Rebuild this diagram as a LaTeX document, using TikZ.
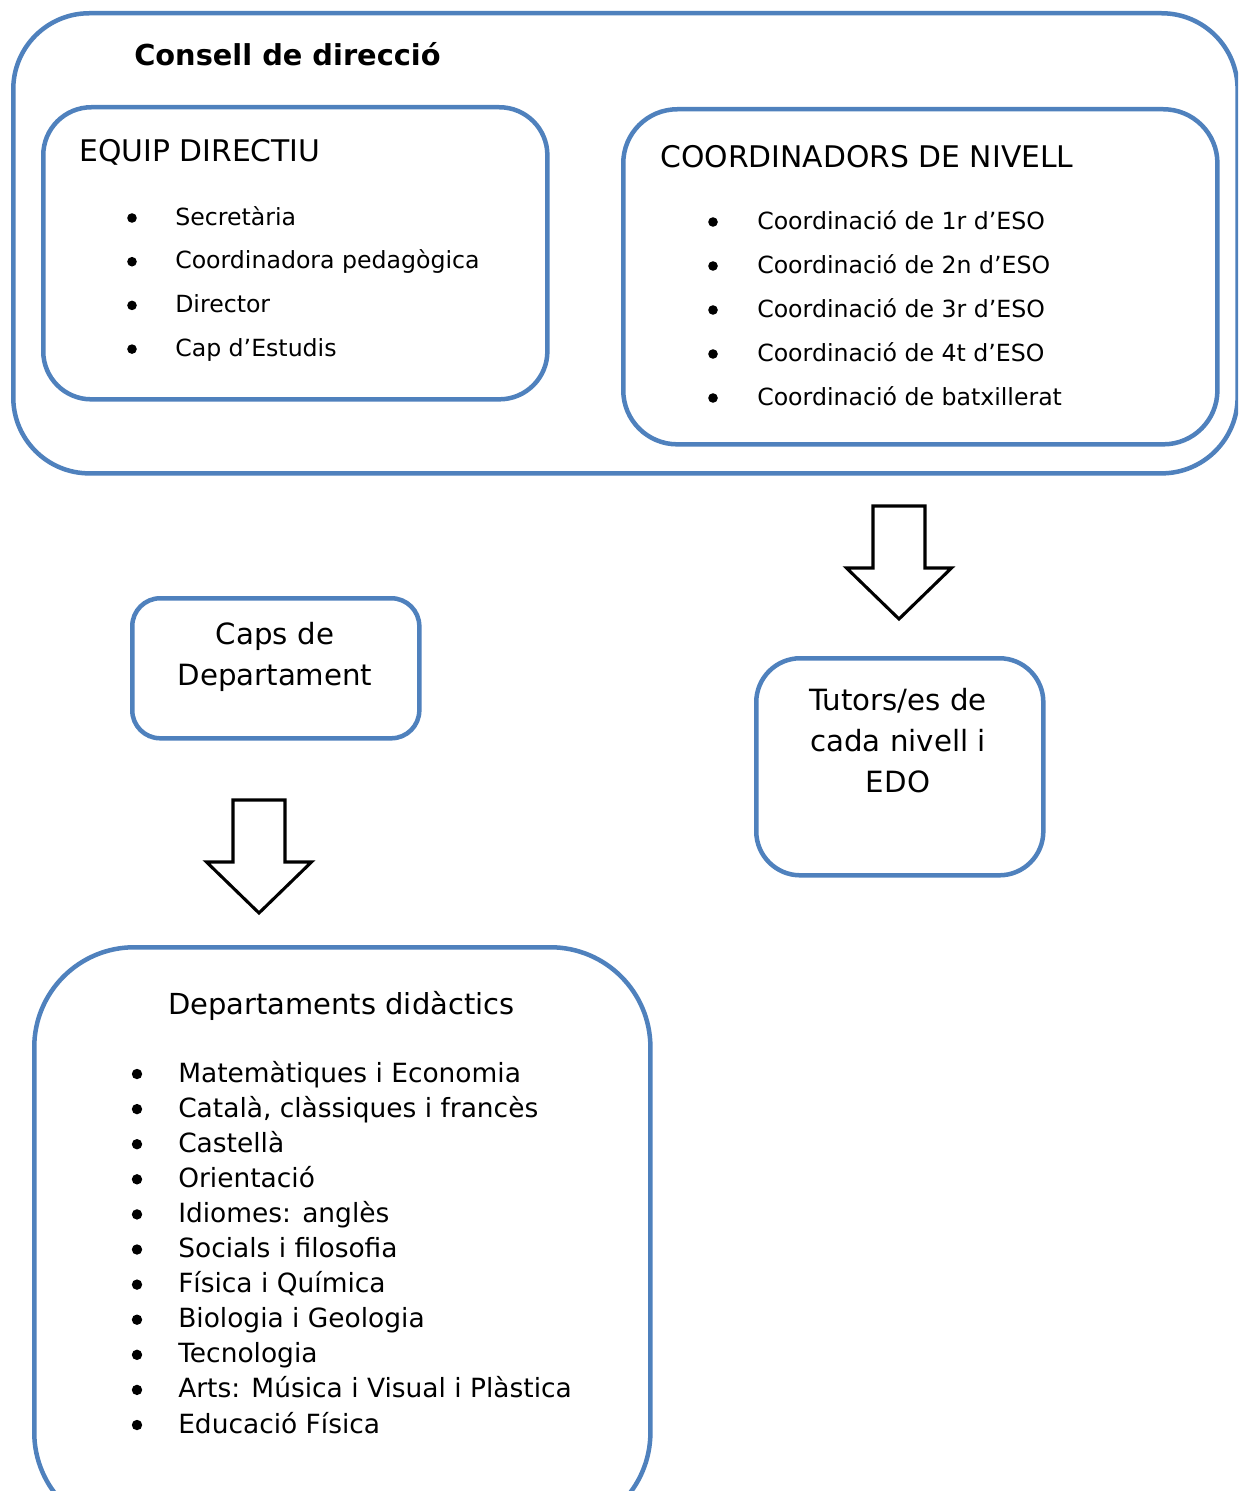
\documentclass[tikz,border=0pt]{standalone}
\usepackage{fontspec}
\setmainfont{DejaVu Sans}
\usetikzlibrary{positioning}
\definecolor{boxblue}{HTML}{4F81BD}

\tikzset{blockdown/.pic={
  \draw[line width=2.2pt,line join=miter,fill=white]
    (-26,0) -- (26,0) -- (26,62) -- (52.5,62) -- (0,113) -- (-52.5,62) -- (-26,62) -- cycle;}}

\begin{document}
\begin{tikzpicture}[x=0.025cm,y=-0.025cm,
  box/.style={draw=boxblue,line width=3.2pt,rounded corners=#1,anchor=north west,inner sep=0pt},
  box/.default=1cm,
  title/.style={anchor=base west,inner sep=0pt,font=\fontsize{21.2}{25}\selectfont},
  item/.style={anchor=base west,inner sep=0pt,font=\fontsize{16.8}{20}\selectfont},
  dept item/.style={anchor=base west,inner sep=0pt,font=\fontsize{18.8}{22}\selectfont},
  dot/.style={circle,fill=black,inner sep=0pt,minimum size=#1},
  dot/.default=0.24cm,
  big text/.style={align=center,inner sep=0pt,font=\fontsize{20.8}{29.2}\selectfont}]
  \clip (0,0) rectangle (1238,1491);
  \fill[white] (0,0) rectangle (1238,1491);

  % consell de direccio
  \node[box=1.9cm,minimum width=30.6cm,minimum height=11.5cm] (consell) at (11,11) {};
  \node[anchor=base west,inner sep=0pt,font=\bfseries\fontsize{20.5}{24}\selectfont] (consellT) at (134,66) {Consell de direcció};

  \node[box=1.2cm,minimum width=12.6cm,minimum height=7.3cm] (equip) at (41,105) {};
  \node[title] (equipT) at (79,162) {EQUIP DIRECTIU};
  \foreach \txt [count=\i from 0] in {Secretària, Coordinadora pedagògica, Director, Cap d’Estudis}{
    \node[dot] (eb\i) at (132,218+43.7*\i) {};
    \node[item] (ei\i) at (175,225+43.7*\i) {\txt};
  }

  \node[box=1.35cm,minimum width=14.85cm,minimum height=8.375cm] (coord) at (621,107) {};
  \node[title] (coordT) at (660,167) {COORDINADORS DE NIVELL};
  \foreach \txt [count=\i from 0] in {Coordinació de 1r d’ESO, Coordinació de 2n d’ESO,
      Coordinació de 3r d’ESO, Coordinació de 4t d’ESO, Coordinació de batxillerat}{
    \node[dot] (cb\i) at (713,222+44*\i) {};
    \node[item] (ci\i) at (757,229+44*\i) {\txt};
  }

  % fletxes
  \pic (fletxaA) at (899,506) {blockdown};
  \pic (fletxaB) at (259,800) {blockdown};

  % caps i tutors
  \node[box=0.7cm,minimum width=7.175cm,minimum height=3.5cm] (caps) at (130,596) {};
  \node[big text] (capsT) at (275,657) {Caps de\\Departament};

  \node[box=1.1cm,minimum width=7.175cm,minimum height=5.425cm] (tutors) at (754,656) {};
  \node[big text] (tutorsT) at (898,741) {Tutors/es de\\cada nivell i\\EDO};

  % departaments
  \node[box=2.5cm,minimum width=15.4cm,minimum height=14.625cm] (dept) at (32,945) {};
  \node[anchor=base west,inner sep=0pt,font=\fontsize{20.6}{24}\selectfont] (deptT) at (168,1014) {Departaments didàctics};
  \foreach \txt [count=\i from 0] in {Matemàtiques i Economia, {Català, clàssiques i francès},
      Castellà, Orientació, Idiomes: anglès, Socials i filosofia, Física i Química,
      Biologia i Geologia, Tecnologia, Arts: Música i Visual i Plàstica, Educació Física}{
    \node[dot=0.26cm] (db\i) at (137,1074+35.1*\i) {};
    \node[dept item] (di\i) at (178,1082+35.1*\i) {\txt};
  }
\end{tikzpicture}
\end{document}
